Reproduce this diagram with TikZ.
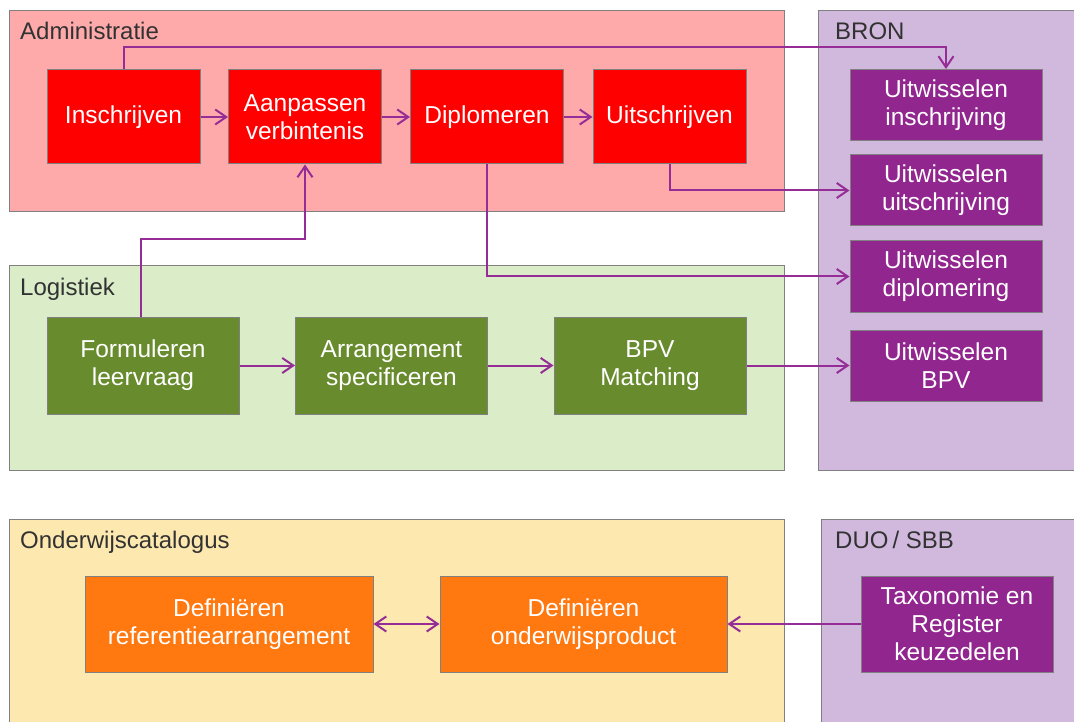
\documentclass[tikz,border=0pt]{standalone}
\usepackage{fontspec}
\setmainfont{Liberation Sans}
\usetikzlibrary{arrows.meta}

\definecolor{adminbg}{RGB}{255,170,170}
\definecolor{bronbg}{RGB}{209,185,222}
\definecolor{logbg}{RGB}{218,237,200}
\definecolor{catbg}{RGB}{253,232,175}
\definecolor{adminred}{RGB}{255,0,0}
\definecolor{bronpurple}{RGB}{146,38,143}
\definecolor{loggreen}{RGB}{104,139,46}
\definecolor{catorange}{RGB}{255,121,16}
\definecolor{linkpurple}{RGB}{150,45,150}
\definecolor{titlegray}{RGB}{50,50,50}

\begin{document}
\begin{tikzpicture}[x=1pt,y=-1pt,>={Straight Barb[length=11pt,width=15pt]},
		group/.style={draw=gray,line width=1pt},
		grouptitle/.style={anchor=base west,inner sep=0pt,text=titlegray,
			font=\fontsize{24}{28}\selectfont},
		proc/.style={draw=gray,line width=1pt,text=white,align=center,inner sep=0pt,
			font=\fontsize{24.5}{28}\selectfont},
		link/.style={draw=linkpurple,line width=2pt,->}]
		
		\useasboundingbox (0,0) rectangle (1074,722);
		
		% Groups
		\fill[white] (0,0) rectangle (1074,722);
		\draw[group,fill=adminbg] (9,11) rectangle (784,212);
		\draw[group,fill=bronbg] (818,11) rectangle (1080,470);
		\draw[group,fill=logbg] (9,266) rectangle (784,470);
		\draw[group,fill=catbg] (9,519) rectangle (784,730);
		\draw[group,fill=bronbg] (821,519) rectangle (1080,730);
		
		\node[grouptitle] (tadmin) at (20,40) {Administratie};
		\node[grouptitle] (tbron) at (835,40) {BRON};
		\node[grouptitle] (tlog) at (20,295) {Logistiek};
		\node[grouptitle] (tcat) at (20,548) {Onderwijscatalogus};
		\node[grouptitle] (tduo) at (835,548) {DUO\,/ SBB};
		
		% Administratie
		\tikzset{adm/.style={proc,fill=adminred,minimum width=153pt,minimum height=94pt}}
		\node[adm] (ins) at (123.5,117) {Inschrijven};
		\node[adm] (aan) at (305,117) {Aanpassen\\verbintenis};
		\node[adm] (dip) at (487,117) {Diplomeren};
		\node[adm] (uit) at (669.5,117) {Uitschrijven};
		
		% BRON
		\tikzset{brn/.style={proc,fill=bronpurple,minimum width=192pt,minimum height=71pt}}
		\node[brn] (bins) at (946,105) {Uitwisselen\\inschrijving};
		\node[brn] (buit) at (946,190.5) {Uitwisselen\\uitschrijving};
		\node[brn] (bdip) at (946,276.5) {Uitwisselen\\diplomering};
		\node[brn] (bbpv) at (946,365.5) {Uitwisselen\\BPV};
		
		% Logistiek
		\tikzset{lgs/.style={proc,fill=loggreen,minimum width=192pt,minimum height=97pt}}
		\node[lgs] (frm) at (143,365.5) {Formuleren\\leervraag};
		\node[lgs] (arr) at (391.5,365.5) {Arrangement\\specificeren};
		\node[lgs] (bpv) at (650,365.5) {BPV\\Matching};
		
		% Onderwijscatalogus and DUO / SBB
		\node[proc,fill=catorange,minimum width=288pt,minimum height=96pt] (ref) at (229,624)
			{Definiëren\\referentiearrangement};
		\node[proc,fill=catorange,minimum width=287pt,minimum height=96pt] (odp) at (583.5,624)
			{Definiëren\\onderwijsproduct};
		\node[proc,fill=bronpurple,minimum width=192pt,minimum height=96pt] (tax) at (957,624)
			{Taxonomie en\\Register\\keuzedelen};
		
		% Connectors
		\draw[link] (ins) -- (aan);
		\draw[link] (aan) -- (dip);
		\draw[link] (dip) -- (uit);
		\draw[link] (ins.north) -- ++(0,-22) -| (bins.north);
		\draw[link] (uit.south) |- (buit.west);
		\draw[link] (dip.south) |- (bdip.west);
		\draw[link] ([xshift=-2pt]frm.north) -- ++(0,-77) -| (aan.south);
		\draw[link] (frm) -- (arr);
		\draw[link] (arr) -- (bpv);
		\draw[link] (bpv) -- (bbpv);
		\draw[link,<->] (ref) -- (odp);
		\draw[link] (tax) -- (odp);
		
	\end{tikzpicture}
\end{document}
